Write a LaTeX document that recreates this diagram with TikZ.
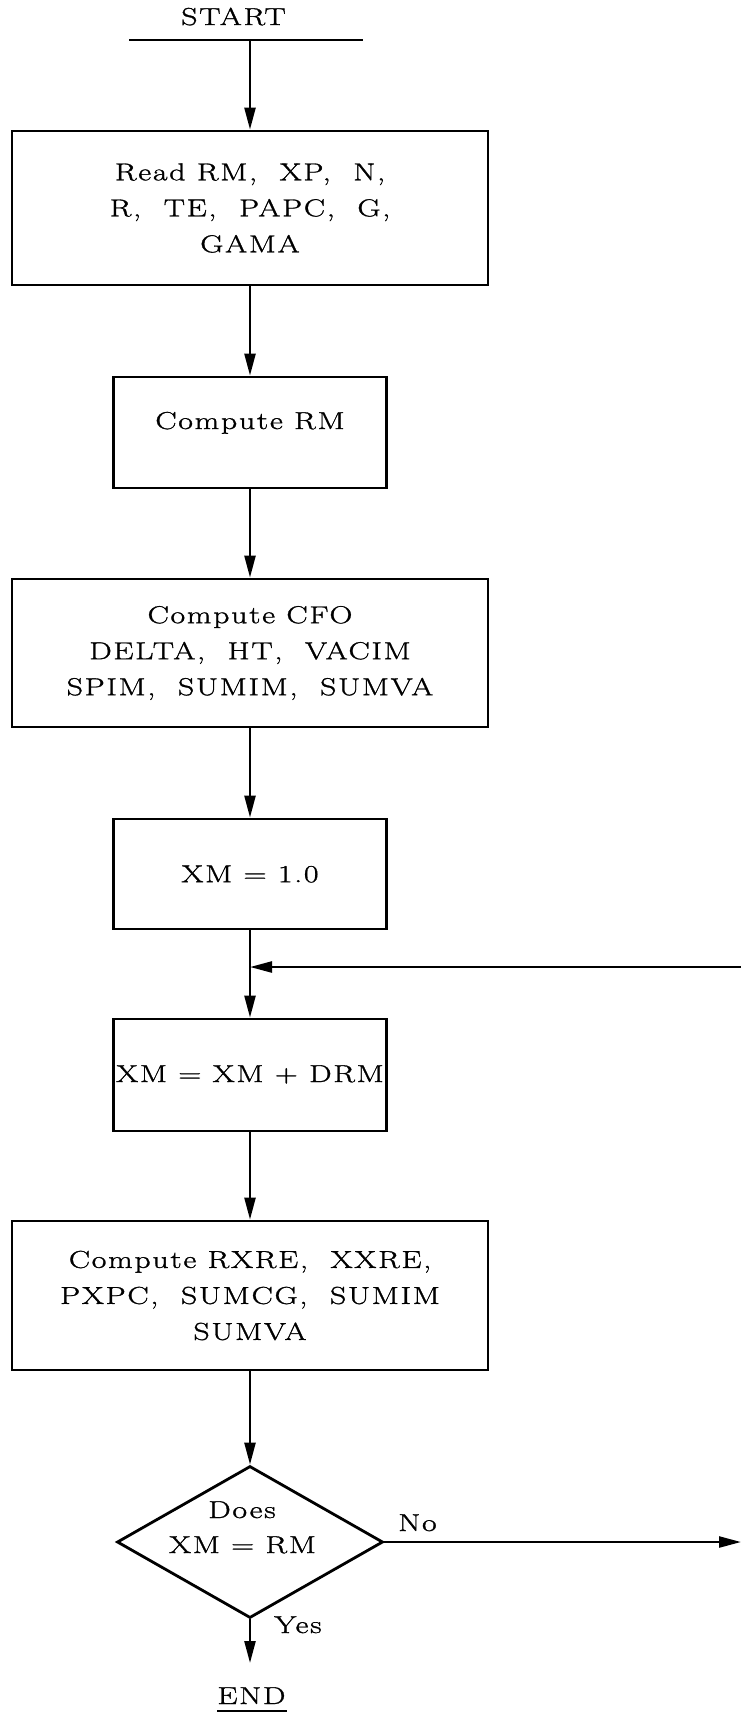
\documentclass[tikz,border=0pt]{standalone}
\usepackage{fontspec}
\setmainfont{Latin Modern Roman}[FakeStretch=1.3,LetterSpace=7,FakeBold=1.2]
\usetikzlibrary{arrows.meta,shapes.geometric}
\begin{document}
\begin{tikzpicture}[x=1pt,y=-1pt,
  every node/.style={font=\fontsize{24.5}{36}\selectfont},
  box/.style={draw, line width=2.8pt, inner sep=0pt, align=center},
  bigbox/.style={box, minimum width=476pt},
  smallbox/.style={box, minimum width=273pt},
  conn/.style={line width=2.4pt, -{Triangle[length=22pt,width=11pt]}},
  plain/.style={line width=2.4pt},
  lbl/.style={anchor=base, inner sep=0pt}]
\useasboundingbox (0,0) rectangle (741,1714);

% start
\node[lbl] (start) at (233.5,25) {START};
\coordinate (sL) at (129,40);
\coordinate (sR) at (363,40);
\coordinate (sC) at (250,40);
\draw[plain] (sL) -- (sR);

% boxes
\node[bigbox, minimum height=154pt] (b1) at (250,208)
  {Read RM,~ XP,~ N,\\R,~ TE,~ PAPC,~ G,\\GAMA};
\node[smallbox, minimum height=111pt] (b2) at (250,432.5) {};
\node[lbl] (b2t) at (250,429) {Compute RM};
\node[bigbox, minimum height=148pt] (b3) at (250,653)
  {Compute CFO\\DELTA,~ HT,~ VACIM\\SPIM,~ SUMIM,~ SUMVA};
\node[smallbox, minimum height=110pt] (b4) at (250,874) {XM = 1.0};
\coordinate (j) at (250,967);
\coordinate (loopR) at (741,967);
\node[smallbox, minimum height=112pt] (b5) at (250,1075) {};
\node[lbl] (b5t) at (250,1082) {XM = XM + DRM};
\node[bigbox, minimum height=149pt] (b6) at (250,1295.5)
  {Compute RXRE,~ XXRE,\\PXPC,~ SUMCG,~ SUMIM\\SUMVA};

% decision
\node[draw, diamond, line width=2.8pt, minimum width=266pt, minimum height=152pt, inner sep=0pt] (d) at (250,1542) {};
\node[lbl] (dt1) at (242,1518) {Does};
\node[lbl] (dt2) at (242.5,1553) {XM = RM};
\node[lbl] (no) at (417.5,1531) {No};
\node[lbl] (yes) at (298,1633) {Yes};
\coordinate (noR) at (741,1542);
\coordinate (endA) at (250,1663);

% end
\node[lbl] (endt) at (251.5,1704) {END};
\coordinate (eL) at (217,1711);
\coordinate (eR) at (287,1711);
\draw[plain] (eL) -- (eR);

% connectors
\draw[conn] (sC) -- (b1.north);
\draw[conn] (b1.south) -- (b2.north);
\draw[conn] (b2.south) -- (b3.north);
\draw[conn] (b3.south) -- (b4.north);
\draw[plain] (b4.south) -- (j);
\draw[conn] (j) -- (b5.north);
\draw[conn] (loopR) -- (j);
\draw[conn] (b5.south) -- (b6.north);
\draw[conn] (b6.south) -- (d.north);
\draw[conn] (d.east) -- (noR);
\draw[conn] (d.south) -- (endA);
\end{tikzpicture}
\end{document}
